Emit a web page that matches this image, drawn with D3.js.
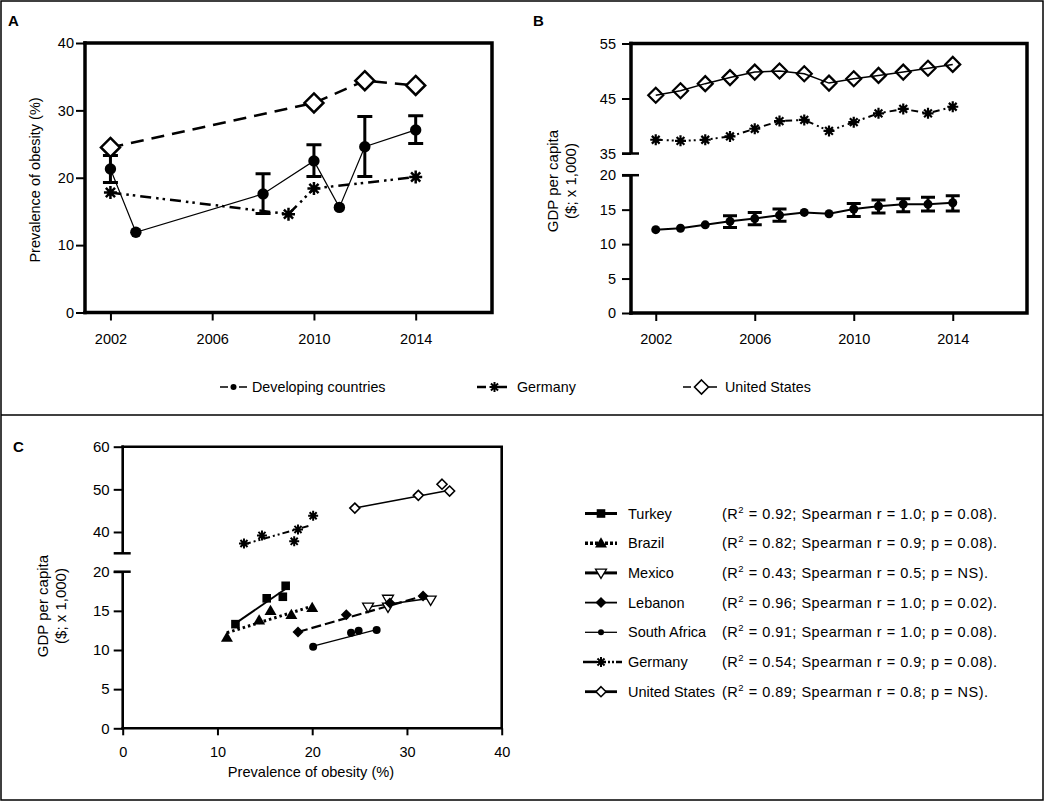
<!DOCTYPE html>
<html>
<head>
<meta charset="utf-8">
<script src="https://cdn.jsdelivr.net/npm/d3@7"></script>
<style>
  body { margin: 0; background: #fff; }
  svg { display: block; font-family: 'Liberation Sans', Arial, sans-serif; }
</style>
</head>
<body>
<svg id="chart" width="1045" height="802"></svg>
<script>
// panel A: prevalence of obesity (%)
var devYearsA = [2002, 2003, 2008, 2010, 2011, 2012, 2014]
var devObesity = [21.3, 11.9, 17.6, 22.5, 15.6, 24.6, 27.1]
var devObesityLow = [19.3, null, 14.7, 20.2, null, 20.2, 25.1]
var devObesityHigh = [23.3, null, 20.6, 24.9, null, 29.1, 29.2]
var gerYearsA = [2002, 2009, 2010, 2014]
var gerObesity = [17.8, 14.6, 18.4, 20.1]
var usYearsA = [2002, 2010, 2012, 2014]
var usObesity = [24.5, 31.1, 34.4, 33.7]

// panel B: GDP per capita ($ x 1,000)
var yearsB = [2002, 2003, 2004, 2005, 2006, 2007, 2008, 2009, 2010, 2011, 2012, 2013, 2014]
var devGdp = [12.1, 12.3, 12.8, 13.3, 13.7, 14.2, 14.6, 14.4, 15.1, 15.5, 15.8, 15.8, 16.0]
var devGdpLow = [null, null, null, 12.4, 12.8, 13.3, null, null, 14.0, 14.5, 14.7, 14.8, 14.8]
var devGdpHigh = [null, null, null, 14.1, 14.6, 15.1, null, null, 15.9, 16.4, 16.6, 16.8, 17.0]
var gerGdp = [37.5, 37.3, 37.5, 38.1, 39.5, 40.9, 41.1, 39.1, 40.7, 42.3, 43.1, 42.3, 43.5]
var usGdp = [45.6, 46.4, 47.7, 48.8, 49.8, 50.0, 49.5, 47.8, 48.6, 49.2, 49.8, 50.5, 51.2]

var yearTicks = [2002, 2006, 2010, 2014]
var obesityTicksA = [0, 10, 20, 30, 40]
var gdpTicksLowB = [0, 5, 10, 15, 20]
var gdpTicksHighB = [35, 45, 55]
var legendAB = ['Developing countries', 'Germany', 'United States']

// panel C: obesity (x) against GDP per capita (y), with fitted lines
var countries = ['Turkey', 'Brazil', 'Mexico', 'Lebanon', 'South Africa', 'Germany', 'United States']
var r2Values = ['0.92', '0.82', '0.43', '0.96', '0.91', '0.54', '0.89']
var spearmanValues = ['1.0', '0.9', '0.5', '1.0', '1.0', '0.9', '0.8']
var pValues = ['0.08', '0.08', 'NS', '0.02', '0.08', '0.08', 'NS']

var turkeyObesity = [11.9, 15.2, 16.9, 17.2]
var turkeyGdp = [13.3, 16.6, 16.8, 18.2]
var turkeyFit = [[11.9, 13.4], [17.25, 17.85]]
var brazilObesity = [11.0, 14.4, 15.6, 17.8, 20.0]
var brazilGdp = [11.6, 13.8, 15.0, 14.5, 15.4]
var brazilFit = [[11.0, 12.2], [20.0, 15.6]]
var mexicoObesity = [25.9, 28.0, 28.0, 32.5]
var mexicoGdp = [15.5, 16.5, 15.5, 16.4]
var mexicoFit = [[25.9, 15.5], [32.5, 16.6]]
var lebanonObesity = [18.5, 23.6, 28.2, 31.7]
var lebanonGdp = [12.3, 14.5, 16.0, 16.9]
var lebanonFit = [[18.5, 12.3], [31.7, 16.9]]
var safricaObesity = [20.1, 24.1, 24.9, 26.8]
var safricaGdp = [10.4, 12.2, 12.45, 12.55]
var safricaFit = [[20.1, 10.5], [26.8, 12.6]]
var germanyObesity = [12.8, 14.7, 18.1, 18.5, 20.1]
var germanyGdp = [37.3, 39.2, 37.8, 40.6, 43.8]
var germanyFit = [[12.8, 37.1], [19.9, 41.6]]
var usaObesity = [24.5, 31.2, 33.7, 34.5]
var usaGdp = [45.6, 48.6, 51.2, 49.6]
var usaFit = [[24.5, 45.6], [34.5, 49.8]]

var obesityTicksC = [0, 10, 20, 30, 40]
var gdpTicksLowC = [0, 5, 10, 15, 20]
var gdpTicksHighC = [40, 50, 60]

var ink = '#000'
var svg = d3.select('#chart')

// marker shapes, centred on 0,0
var shapes = {
  circle: function (r) {
    return 'M' + r + ',0A' + r + ',' + r + ' 0 1,1 ' + (-r) + ',0A' + r + ',' + r + ' 0 1,1 ' + r + ',0Z'
  },
  square: function (r) {
    return 'M' + (-r) + ',' + (-r) + 'H' + r + 'V' + r + 'H' + (-r) + 'Z'
  },
  diamond: function (r) {
    return 'M0,' + (-r) + 'L' + r + ',0L0,' + r + 'L' + (-r) + ',0Z'
  },
  triUp: function (r) {
    return 'M0,' + (-r) + 'L' + r + ',' + (r * 0.7) + 'L' + (-r) + ',' + (r * 0.7) + 'Z'
  },
  triDown: function (r) {
    return 'M0,' + r + 'L' + r + ',' + (-r * 0.7) + 'L' + (-r) + ',' + (-r * 0.7) + 'Z'
  },
  asterisk: function (r) {
    var p = ''
    for (var k = 0; k < 4; k++) {
      var a = k * Math.PI / 4
      p += 'M' + (-r * Math.cos(a)) + ',' + (-r * Math.sin(a)) + 'L' + (r * Math.cos(a)) + ',' + (r * Math.sin(a))
    }
    return p
  }
}

function drawMarkers (g, pts, shape, r, fill, sw) {
  g.selectAll(null)
    .data(pts)
    .enter().append('path')
    .attr('transform', function (d) { return 'translate(' + d[0] + ',' + d[1] + ')' })
    .attr('d', shapes[shape](r))
    .attr('fill', shape === 'asterisk' ? 'none' : fill)
    .attr('stroke', ink)
    .attr('stroke-width', sw)
}

function drawLine (g, pts, sw, dash) {
  g.append('path')
    .attr('d', d3.line()(pts))
    .attr('fill', 'none')
    .attr('stroke', ink)
    .attr('stroke-width', sw)
    .attr('stroke-dasharray', dash || null)
}

function drawErrorBars (g, xs, lows, highs, xs2px, ys2px, cap, sw) {
  xs.forEach(function (v, i) {
    if (lows[i] === null) return
    var x = xs2px(v)
    var y0 = ys2px(lows[i])
    var y1 = ys2px(highs[i])
    g.append('path')
      .attr('d', 'M' + x + ',' + y0 + 'V' + y1 +
        'M' + (x - cap) + ',' + y0 + 'H' + (x + cap) +
        'M' + (x - cap) + ',' + y1 + 'H' + (x + cap))
      .attr('fill', 'none')
      .attr('stroke', ink)
      .attr('stroke-width', sw)
  })
}

// box round a plot: top, right, bottom, and a left side that may be broken
function drawFrame (x0, x1, y0, y1, sw, gap) {
  var h = sw / 2
  svg.append('path')
    .attr('d', 'M' + (x0 - h) + ',' + y0 + 'H' + x1 + 'V' + y1 + 'H' + (x0 - h))
    .attr('fill', 'none')
    .attr('stroke', ink)
    .attr('stroke-width', sw)
  var segs = gap ? [[y0 - h, gap[0]], [gap[1], y1 + h]] : [[y0 - h, y1 + h]]
  segs.forEach(function (s) {
    svg.append('line')
      .attr('x1', x0).attr('x2', x0)
      .attr('y1', s[0]).attr('y2', s[1])
      .attr('stroke', ink)
      .attr('stroke-width', sw)
  })
  if (gap) {
    gap.forEach(function (y) {
      svg.append('line')
        .attr('x1', x0 - 9).attr('x2', x0 + 8)
        .attr('y1', y).attr('y2', y)
        .attr('stroke', ink)
        .attr('stroke-width', 2.5)
    })
  }
}

function styleAxis (g, size) {
  g.select('.domain').remove()
  g.attr('font-family', null).attr('font-size', null)
  g.selectAll('.tick line').attr('stroke', ink).attr('stroke-width', 2)
  g.selectAll('.tick text').attr('fill', ink).style('font-size', size + 'px')
}

function panelLetter (t, x, y) {
  svg.append('text').attr('x', x).attr('y', y)
    .attr('font-weight', 'bold').attr('font-size', 15).attr('fill', ink).text(t)
}

function zipPx (xs, ys, sx, sy) {
  return d3.zip(xs, ys).map(function (d) { return [sx(d[0]), sy(d[1])] })
}

// outer border and divider
svg.append('rect').attr('x', 1).attr('y', 1).attr('width', 1042).attr('height', 799)
  .attr('fill', 'none').attr('stroke', ink).attr('stroke-width', 1.5)
svg.append('line').attr('x1', 1).attr('x2', 1043).attr('y1', 415).attr('y2', 415)
  .attr('stroke', ink).attr('stroke-width', 1.5)

// ---------- panel A ----------
var xA = d3.scaleLinear().domain([2001, 2017]).range([85, 492])
var yA = d3.scaleLinear().domain([0, 40]).range([312.5, 43])

panelLetter('A', 8, 26)

svg.append('g').attr('transform', 'translate(0,312.5)')
  .call(d3.axisBottom(xA).tickValues(yearTicks).tickFormat(d3.format('d')).tickSize(8).tickPadding(13))
  .call(function (g) { styleAxis(g, 14.5) })
svg.append('g').attr('transform', 'translate(85,0)')
  .call(d3.axisLeft(yA).tickValues(obesityTicksA).tickSize(9).tickPadding(2))
  .call(function (g) { styleAxis(g, 14.5) })

drawFrame(85, 492, 43, 312.5, 3.5)

svg.append('text')
  .attr('transform', 'translate(40,180) rotate(-90)')
  .attr('text-anchor', 'middle')
  .attr('font-size', 14.5)
  .attr('fill', ink)
  .text('Prevalence of obesity (%)')

var gA = svg.append('g')
drawErrorBars(gA, devYearsA, devObesityLow, devObesityHigh, xA, yA, 7.5, 3)
drawLine(gA, zipPx(devYearsA, devObesity, xA, yA), 1.2)
drawLine(gA, zipPx(gerYearsA, gerObesity, xA, yA), 2.5, '11,5,2.5,4,2.5,5')
drawLine(gA, zipPx(usYearsA, usObesity, xA, yA), 2.5, '13,8')
drawMarkers(gA, zipPx(devYearsA, devObesity, xA, yA), 'circle', 5.7, ink, 0)
drawMarkers(gA, zipPx(gerYearsA, gerObesity, xA, yA), 'asterisk', 6.5, ink, 2.5)
drawMarkers(gA, zipPx(usYearsA, usObesity, xA, yA), 'diamond', 9.5, '#fff', 2.5)

// ---------- panel B ----------
var xB = d3.scaleLinear().domain([2001, 2017]).range([631, 1027])
var yBLow = d3.scaleLinear().domain([0, 20]).range([313, 175.2])
var yBHigh = d3.scaleLinear().domain([35, 55]).range([153.5, 43.5])

panelLetter('B', 533, 26)

svg.append('g').attr('transform', 'translate(0,313)')
  .call(d3.axisBottom(xB).tickValues(yearTicks).tickFormat(d3.format('d')).tickSize(8).tickPadding(13))
  .call(function (g) { styleAxis(g, 14.5) })
svg.append('g').attr('transform', 'translate(631,0)')
  .call(d3.axisLeft(yBLow).tickValues(gdpTicksLowB).tickSize(9).tickPadding(6))
  .call(function (g) { styleAxis(g, 14.5) })
svg.append('g').attr('transform', 'translate(631,0)')
  .call(d3.axisLeft(yBHigh).tickValues(gdpTicksHighB).tickSize(9).tickPadding(6))
  .call(function (g) { styleAxis(g, 14.5) })

drawFrame(631, 1027, 43.5, 313, 3.5, [yBHigh(35), yBLow(20)])

var titleB = svg.append('text')
  .attr('transform', 'translate(558,181) rotate(-90)')
  .attr('text-anchor', 'middle')
  .attr('font-size', 15)
  .attr('fill', ink)
titleB.append('tspan').attr('x', 0).attr('dy', 0).text('GDP per capita')
titleB.append('tspan').attr('x', 0).attr('dy', 18).text('($; x 1,000)')

var gB = svg.append('g')
drawErrorBars(gB, yearsB, devGdpLow, devGdpHigh, xB, yBLow, 7, 3)
drawLine(gB, zipPx(yearsB, devGdp, xB, yBLow), 2)
drawLine(gB, zipPx(yearsB, gerGdp, xB, yBHigh), 2, '7,4,2,3,2,4')
drawMarkers(gB, zipPx(yearsB, devGdp, xB, yBLow), 'circle', 4.5, ink, 0)
drawMarkers(gB, zipPx(yearsB, gerGdp, xB, yBHigh), 'asterisk', 5.5, ink, 2.2)
drawMarkers(gB, zipPx(yearsB, usGdp, xB, yBHigh), 'diamond', 7.5, 'none', 2.2)
drawLine(gB, zipPx(yearsB, usGdp, xB, yBHigh), 1.5)

// ---------- legend for A and B ----------
var legAB = [
  { x: 220, text: 252, shape: 'circle', r: 3, fill: ink, sw: 0, lw: 1.5, dash: '8,11,8' },
  { x: 477, text: 517, shape: 'asterisk', r: 5, fill: ink, sw: 2, lw: 2.5, dash: '9,12,9' },
  { x: 683, text: 725, shape: 'diamond', r: 7, fill: '#fff', sw: 1.6, lw: 1.6, dash: '8,18,8' }
]
legAB.forEach(function (d, i) {
  var w = d.text - d.x - 5
  svg.append('line').attr('x1', d.x).attr('x2', d.x + w).attr('y1', 387).attr('y2', 387)
    .attr('stroke', ink).attr('stroke-width', d.lw).attr('stroke-dasharray', d.dash)
  drawMarkers(svg, [[d.x + w / 2, 387]], d.shape, d.r, d.fill, d.sw)
  svg.append('text').attr('x', d.text).attr('y', 392)
    .attr('font-size', 14.3).attr('fill', ink).text(legendAB[i])
})

// ---------- panel C ----------
var xC = d3.scaleLinear().domain([0, 40]).range([122.7, 501.7])
var yCLow = d3.scaleLinear().domain([0, 20]).range([728.3, 571.7])
var yCHigh = d3.scaleLinear().domain([35, 60]).range([553.3, 446.7])
var yC = function (v) { return v >= 30 ? yCHigh(v) : yCLow(v) }

panelLetter('C', 13, 452)

svg.append('g').attr('transform', 'translate(0,728.3)')
  .call(d3.axisBottom(xC).tickValues(obesityTicksC).tickSize(7).tickPadding(11))
  .call(function (g) { styleAxis(g, 14.5) })
svg.append('g').attr('transform', 'translate(122.7,0)')
  .call(d3.axisLeft(yCLow).tickValues(gdpTicksLowC).tickSize(9).tickPadding(4))
  .call(function (g) { styleAxis(g, 15) })
svg.append('g').attr('transform', 'translate(122.7,0)')
  .call(d3.axisLeft(yCHigh).tickValues(gdpTicksHighC).tickSize(9).tickPadding(4))
  .call(function (g) { styleAxis(g, 15) })

drawFrame(122.7, 501.7, 446.7, 728.3, 2.6, [yCHigh(35), yCLow(20)])

var titleC = svg.append('text')
  .attr('transform', 'translate(48,606) rotate(-90)')
  .attr('text-anchor', 'middle')
  .attr('font-size', 15)
  .attr('fill', ink)
titleC.append('tspan').attr('x', 0).attr('dy', 0).text('GDP per capita')
titleC.append('tspan').attr('x', 0).attr('dy', 18).text('($; x 1,000)')

svg.append('text').attr('x', 311).attr('y', 777)
  .attr('text-anchor', 'middle').attr('font-size', 14.6).attr('fill', ink)
  .text('Prevalence of obesity (%)')

var seriesC = [
  { x: turkeyObesity, y: turkeyGdp, fit: turkeyFit },
  { x: brazilObesity, y: brazilGdp, fit: brazilFit },
  { x: mexicoObesity, y: mexicoGdp, fit: mexicoFit },
  { x: lebanonObesity, y: lebanonGdp, fit: lebanonFit },
  { x: safricaObesity, y: safricaGdp, fit: safricaFit },
  { x: germanyObesity, y: germanyGdp, fit: germanyFit },
  { x: usaObesity, y: usaGdp, fit: usaFit }
]
var styleC = [
  { shape: 'square', r: 4.3, fill: ink, sw: 0, lw: 2, dash: null, legLw: 3, legDash: null },
  { shape: 'triUp', r: 6, fill: ink, sw: 0, lw: 3, dash: '2.5,3', legLw: 3.5, legDash: '3,2' },
  { shape: 'triDown', r: 5.5, fill: '#fff', sw: 1.3, lw: 1.6, dash: null, legLw: 3, legDash: null },
  { shape: 'diamond', r: 5.5, fill: ink, sw: 0, lw: 2.2, dash: '10,4', legLw: 1.8, legDash: null },
  { shape: 'circle', r: 4, fill: ink, sw: 0, lw: 1.3, dash: null, legLw: 1.3, legDash: null },
  { shape: 'asterisk', r: 5, fill: ink, sw: 2, lw: 2, dash: '7,3,2,3,2,3', legLw: 2.5, legDash: '14,3,2,2,2,2,2,2,2,2' },
  { shape: 'diamond', r: 5, fill: '#fff', sw: 1.6, lw: 1.5, dash: null, legLw: 2.8, legDash: null }
]

var gC = svg.append('g')
seriesC.forEach(function (s, i) {
  var st = styleC[i]
  drawLine(gC, s.fit.map(function (d) { return [xC(d[0]), yC(d[1])] }), st.lw, st.dash)
})
seriesC.forEach(function (s, i) {
  var st = styleC[i]
  drawMarkers(gC, zipPx(s.x, s.y, xC, yC), st.shape, st.r, st.fill, st.sw)
})

// legend for C
countries.forEach(function (name, i) {
  var st = styleC[i]
  var y = 513.5 + i * 29.7
  var x0 = name === 'Germany' ? 583 : 585
  var x1 = name === 'Germany' ? 622 : 617
  svg.append('line').attr('x1', x0).attr('x2', x1).attr('y1', y).attr('y2', y)
    .attr('stroke', ink).attr('stroke-width', st.legLw).attr('stroke-dasharray', st.legDash)
  var r = st.shape === 'circle' ? 3 : st.r
  drawMarkers(svg, [[601, y]], st.shape, r, st.fill, st.sw)
  svg.append('text').attr('x', 628).attr('y', y + 5)
    .attr('font-size', 14.5).attr('fill', ink).text(name)
  var t = svg.append('text').attr('x', 722).attr('y', y + 5)
    .attr('font-size', 14.5).attr('fill', ink).attr('letter-spacing', 0.5)
  t.append('tspan').text('(R')
  t.append('tspan').attr('dy', -6).attr('font-size', 9.5).text('2')
  t.append('tspan').attr('dy', 6)
    .text(' = ' + r2Values[i] + '; Spearman r = ' + spearmanValues[i] + '; p = ' + pValues[i] + ').')
})
</script>
</body>
</html>
